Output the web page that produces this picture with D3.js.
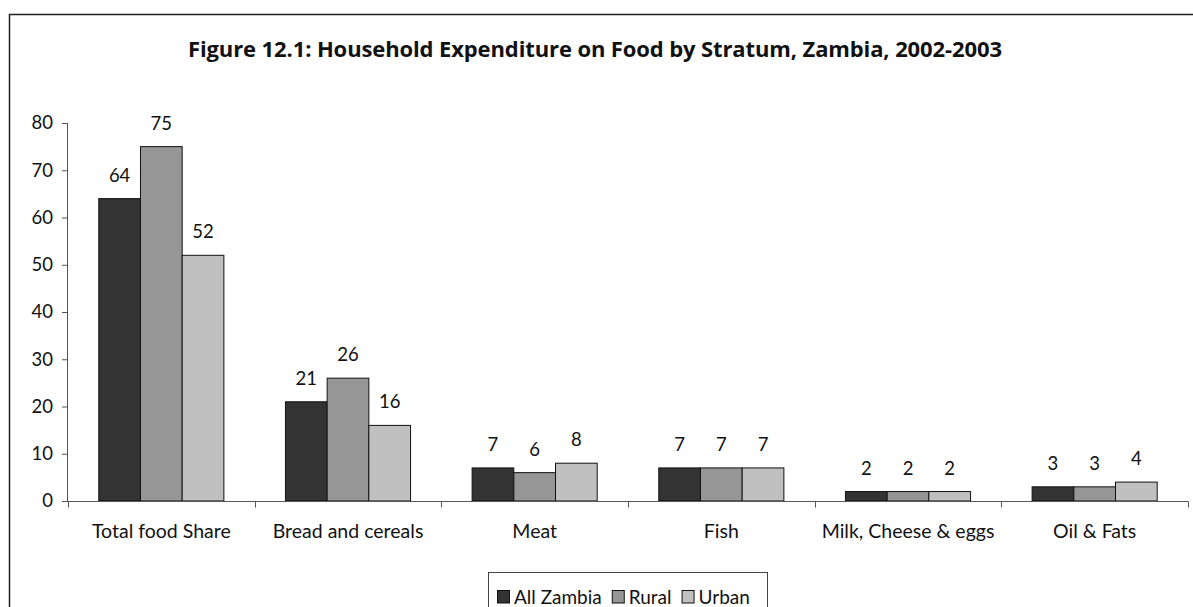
<!DOCTYPE html>
<html><head><meta charset="utf-8">
<script src="https://cdn.jsdelivr.net/npm/d3@7"></script>
<style>
body{margin:0;background:#fff;}
text{font-family:"Lato","Open Sans",sans-serif;fill:#111;}
</style></head>
<body><svg id="c" width="1193" height="607"></svg>
<script>
const categories = ["Total food Share","Bread and cereals","Meat","Fish","Milk, Cheese & eggs","Oil & Fats"];
const seriesNames = ["All Zambia","Rural","Urban"];
const allZambia = [64,21,7,7,2,3];
const rural = [75,26,6,7,2,3];
const urban = [52,16,8,7,2,4];
const yTicks = [0,10,20,30,40,50,60,70,80];
const colors = ["#333333","#969696","#c0c0c0"];
const title = "Figure 12.1: Household Expenditure on Food by Stratum, Zambia, 2002-2003";

const series = [allZambia, rural, urban];
const svg = d3.select("#c");
const FONT = "Lato,'Open Sans',sans-serif";

// outer frame
svg.append("rect").attr("x",9.5).attr("y",14.5).attr("width",1200).attr("height",620)
  .attr("fill","none").attr("stroke","#222").attr("stroke-width",1.5);

const tt = svg.append("text").attr("x",595).attr("y",57).attr("text-anchor","middle")
  .style("font-family","'Open Sans',sans-serif")
  .style("font-size","22px").style("font-weight","bold").text(title);
tt.attr("textLength",814).attr("lengthAdjust","spacing");

const x0 = d3.scaleBand().domain(categories).range([68,1188]).paddingInner(0).paddingOuter(0);
const y = d3.scaleLinear().domain([0,80]).range([501,123]);
const barW = 41.7;
const x1 = d3.scaleBand().domain(seriesNames).range([0,barW*3]);
const off = (x0.bandwidth()-barW*3)/2;

// bars
categories.forEach((c,i)=>{
  seriesNames.forEach((s,j)=>{
    const v = series[j][i];
    const bx = x0(c)+off+x1(s);
    svg.append("rect").attr("x",bx).attr("y",y(v)).attr("width",x1.bandwidth()).attr("height",y(0)-y(v))
      .attr("fill",colors[j]).attr("stroke","#111").attr("stroke-width",1);
    svg.append("text").attr("x",bx+x1.bandwidth()/2).attr("y",y(v)-17).attr("text-anchor","middle")
      .style("font-size","18.5px").text(v);
  });
});

// y axis
const ya = d3.axisLeft(y).tickValues(yTicks).tickSize(6).tickPadding(9);
const gy = svg.append("g").attr("transform","translate(68,0)").call(ya);
gy.select(".domain").attr("stroke","#555").attr("d","M-0.5,123V501.5");
gy.selectAll(".tick line").attr("stroke","#555");
gy.selectAll(".tick text").style("font-size","18.5px").style("font-family",FONT).attr("fill","#111");

// x axis
const xa = d3.axisBottom(x0).tickSize(0).tickPadding(23);
const gx = svg.append("g").attr("transform","translate(0,501.5)").call(xa);
gx.select(".domain").attr("stroke","#555").attr("d","M68,0H1188");
gx.selectAll(".tick text").style("font-size","19.5px").style("font-family",FONT).attr("fill","#111");
const bounds = categories.map(c=>x0(c)).concat([x0(categories[categories.length-1])+x0.bandwidth()]);
gx.selectAll(".bt").data(bounds).enter().append("line").attr("class","bt")
  .attr("x1",d=>Math.round(d)+0.5).attr("x2",d=>Math.round(d)+0.5).attr("y1",0).attr("y2",6).attr("stroke","#555");

// legend
const lg = svg.append("g");
lg.append("rect").attr("x",488.5).attr("y",572.5).attr("width",279).attr("height",40).attr("fill","#fff").attr("stroke","#444");
let cx = 497;
seriesNames.forEach((s,j)=>{
  lg.append("rect").attr("x",cx+0.5).attr("y",590.5).attr("width",12).attr("height",12.5).attr("fill",colors[j]).attr("stroke","#111");
  const t = lg.append("text").attr("x",cx+17).attr("y",603.5).style("font-size","19px").text(s);
  const w = t.node().getComputedTextLength();
  cx = cx+17+w+10;
});
</script></body></html>
